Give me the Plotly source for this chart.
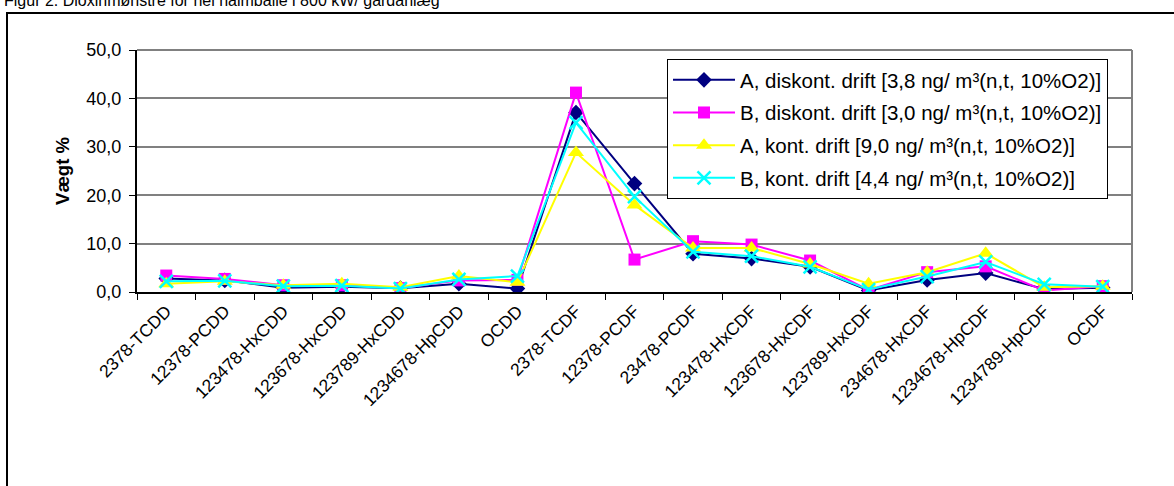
import plotly.graph_objects as go

categories = ["2378-TCDD", "12378-PCDD", "123478-HxCDD", "123678-HxCDD", "123789-HxCDD",
              "1234678-HpCDD", "OCDD", "2378-TCDF", "12378-PCDF", "23478-PCDF",
              "123478-HxCDF", "123678-HxCDF", "123789-HxCDF", "234678-HxCDF",
              "1234678-HpCDF", "1234789-HpCDF", "OCDF"]

a_diskont = [2.8, 2.4, 0.9, 1.1, 0.8, 1.7, 0.7, 37.1, 22.4, 7.9, 6.9, 5.2, 0.3, 2.5, 3.9, 0.6, 0.9]
b_diskont = [3.4, 2.7, 1.4, 1.4, 0.8, 2.4, 2.5, 41.2, 6.7, 10.5, 9.8, 6.5, 0.4, 4.1, 5.3, 0.3, 1.2]
a_kont = [1.7, 2.2, 1.4, 1.7, 1.0, 3.3, 2.0, 28.8, 18.0, 9.1, 9.1, 5.8, 1.7, 4.1, 8.0, 1.0, 1.2]
b_kont = [2.2, 2.3, 1.2, 1.3, 0.7, 2.6, 3.3, 35.0, 19.7, 8.3, 7.4, 5.2, 0.5, 3.2, 6.2, 1.6, 1.1]

names = ["A, diskont. drift [3,8 ng/ m³(n,t, 10%O2)]",
         "B, diskont. drift [3,0 ng/ m³(n,t, 10%O2)]",
         "A, kont. drift [9,0 ng/ m³(n,t, 10%O2)]",
         "B, kont. drift [4,4 ng/ m³(n,t, 10%O2)]"]

yticks = [0, 10, 20, 30, 40, 50]

FONT = "Liberation Sans, Arial, sans-serif"

fig = go.Figure()
series = [
    (a_diskont, "#000080", dict(symbol="diamond", size=12, color="#000080")),
    (b_diskont, "#FF00FF", dict(symbol="square", size=12, color="#FF00FF")),
    (a_kont, "#FFFF00", dict(symbol="triangle-up", size=14, color="#FFFF00")),
    (b_kont, "#00FFFF", dict(symbol="x-thin", size=13, color="#00FFFF",
                             line=dict(color="#00FFFF", width=2.5))),
]
for i, (vals, col, mk) in enumerate(series):
    fig.add_trace(go.Scatter(
        x=categories, y=vals, name=names[i], mode="lines+markers",
        line=dict(color=col, width=2), marker=mk,
        legendgroup=f"g{i}",
    ))

L, R, T, B = 137, 1132, 50, 292
W, H = 1174, 486

def px(x):
    return (x - L) / (R - L)

def py(y):
    return (B - y) / (B - T)

fig.update_layout(
    width=W, height=H,
    margin=dict(l=L, r=W - R, t=T, b=H - B, pad=0),
    paper_bgcolor="white", plot_bgcolor="white",
    font=dict(family=FONT, size=17, color="black"),
    separators=",.",
    showlegend=True,
    legend=dict(
        x=px(667), y=py(59), xanchor="left", yanchor="top",
        bgcolor="white", bordercolor="black", borderwidth=1,
        font=dict(family=FONT, size=20.5, color="black"),
        tracegroupgap=3, traceorder="grouped", itemwidth=62,
    ),
    xaxis=dict(
        type="category", range=[-0.5, len(categories) - 0.5],
        tickangle=-45, tickson="boundaries", ticks="outside", ticklen=6,
        tickcolor="black", showline=True, linecolor="black", linewidth=2,
        showgrid=False, mirror=False, zeroline=False,
        tickfont=dict(family=FONT, size=17.5, color="black"),
    ),
    yaxis=dict(
        range=[0, 50], tickvals=yticks, tickformat=".1f",
        ticks="outside", ticklen=6, tickcolor="black", ticklabelstandoff=4,
        showline=True, linecolor="black", linewidth=2,
        showgrid=True, gridcolor="#808080", gridwidth=1.5, zeroline=False,
        tickfont=dict(family=FONT, size=18, color="black"),
        title=dict(text="<b>Vægt %</b>", font=dict(family=FONT, size=18.5, color="black"),
                   standoff=12),
    ),
    shapes=[
        dict(type="line", xref="paper", yref="paper", x0=0, x1=1, y0=1, y1=1,
             line=dict(color="#808080", width=2)),
        dict(type="line", xref="paper", yref="paper", x0=1, x1=1, y0=0, y1=1,
             line=dict(color="#808080", width=2)),
        dict(type="rect", xref="paper", yref="paper",
             x0=px(7), x1=px(1190), y0=py(500), y1=py(13),
             line=dict(color="black", width=2), fillcolor="rgba(0,0,0,0)",
             layer="below"),
    ],
    annotations=[
        dict(text="Figur 2. Dioxinmønstre for hel halmballe i 800 kW/ gårdanlæg",
             xref="paper", yref="paper", x=px(2), y=py(1), xanchor="left",
             yanchor="middle", showarrow=False,
             font=dict(family=FONT, size=16, color="black")),
    ],
)

fig.write_html("out.html", config={"displayModeBar": False},
               post_script="document.body.style.margin='0';")
